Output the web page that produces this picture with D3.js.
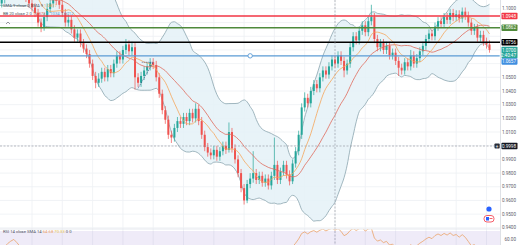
<!DOCTYPE html>
<html>
<head>
<meta charset="utf-8">
<script src="https://d3js.org/d3.v7.min.js"></script>
<style>
    body { margin: 0; background: #fff; }
    text { font-family: Roboto, sans-serif; }
    .tickLabel { font-size: 4.6px; fill: #5d606b; }
    .legend { font-size: 4.2px; fill: #50535e; }
    .boxLabel { font-size: 4.6px; fill: #fff; }
</style>
</head>
<body>
<div id="chart"></div>
<script>
// daily candles, oldest first (first ~30 sit above the visible price range)
const opens = [
    1.108,1.112,1.118,1.121,1.115,1.109,1.113,1.117,1.122,1.126,
    1.120,1.114,1.110,1.106,1.109,1.114,1.119,1.116,1.111,1.108,
    1.104,1.107,1.112,1.117,1.121,1.124,1.120,1.115,1.111,1.108,
    1.104,1.101,1.097,1.090,1.086,1.094,1.100,1.104,1.108,1.106,
    1.103,1.097,1.090,1.092,1.085,1.079,1.082,1.075,1.071,1.067,
    1.060,1.051,1.046,1.049,1.054,1.050,1.056,1.053,1.060,1.066,
    1.063,1.070,1.074,1.069,1.072,1.050,1.046,1.051,1.055,1.058,
    1.061,1.059,1.050,1.038,1.026,1.019,1.008,1.006,1.013,1.018,
    1.016,1.021,1.018,1.024,1.020,1.027,1.018,1.008,0.999,0.995,
    0.993,0.997,0.992,0.996,1.000,0.997,1.010,0.998,0.990,0.980,
    0.969,0.960,0.972,0.976,0.980,0.975,0.978,0.973,0.976,0.971,
    0.978,0.986,0.975,0.981,0.986,0.979,0.974,0.987,0.996,1.008,
    1.028,1.035,1.031,1.040,1.045,1.042,1.050,1.055,1.052,1.058,
    1.063,1.060,1.066,1.062,1.055,1.060,1.072,1.080,1.077,1.084,
    1.088,1.083,1.091,1.094,1.078,1.072,1.075,1.070,1.073,1.066,
    1.068,1.062,1.057,1.055,1.061,1.058,1.066,1.060,1.064,1.069,
    1.073,1.078,1.082,1.080,1.087,1.091,1.089,1.094,1.092,1.097,
    1.094,1.096,1.093,1.098,1.095,1.090,1.084,1.086,1.079,1.081,
    1.076,1.074
];
const highs = [
    1.115,1.121,1.125,1.124,1.118,1.116,1.120,1.125,1.130,1.129,
    1.123,1.117,1.113,1.112,1.117,1.122,1.122,1.119,1.114,1.111,
    1.110,1.115,1.120,1.124,1.128,1.127,1.123,1.118,1.114,1.111,
    1.107,1.104,1.100,1.093,1.097,1.104,1.108,1.112,1.111,1.109,
    1.110,1.100,1.096,1.095,1.088,1.085,1.085,1.078,1.074,1.070,
    1.063,1.054,1.053,1.057,1.057,1.059,1.059,1.063,1.069,1.069,
    1.073,1.078,1.077,1.076,1.075,1.053,1.054,1.058,1.061,1.064,
    1.064,1.062,1.053,1.041,1.029,1.022,1.011,1.016,1.021,1.021,
    1.024,1.024,1.027,1.027,1.031,1.030,1.021,1.011,1.002,0.998,
    1.000,1.000,0.999,1.003,1.003,1.017,1.013,1.001,0.993,0.983,
    0.972,0.975,0.980,0.996,0.983,0.981,0.981,0.979,0.979,0.981,
    1.006,0.989,0.984,0.989,0.989,0.982,0.990,0.999,1.011,1.031,
    1.039,1.038,1.043,1.048,1.048,1.053,1.058,1.058,1.061,1.066,
    1.066,1.069,1.069,1.065,1.063,1.075,1.083,1.083,1.087,1.091,
    1.091,1.094,1.103,1.097,1.081,1.078,1.078,1.076,1.076,1.071,
    1.071,1.065,1.060,1.064,1.064,1.070,1.069,1.067,1.072,1.076,
    1.081,1.085,1.085,1.090,1.094,1.094,1.097,1.097,1.100,1.100,
    1.099,1.099,1.101,1.101,1.098,1.093,1.089,1.089,1.084,1.084,
    1.079,1.077
];
const lows = [
    1.105,1.109,1.115,1.112,1.106,1.105,1.110,1.114,1.119,1.117,
    1.111,1.107,1.103,1.103,1.106,1.111,1.113,1.108,1.105,1.101,
    1.101,1.104,1.109,1.114,1.118,1.117,1.112,1.108,1.105,1.101,
    1.098,1.094,1.087,1.083,1.084,1.091,1.097,1.101,1.103,1.100,
    1.094,1.087,1.087,1.082,1.076,1.076,1.072,1.068,1.064,1.057,
    1.048,1.042,1.043,1.046,1.047,1.047,1.050,1.050,1.057,1.060,
    1.060,1.067,1.066,1.066,1.041,1.043,1.043,1.048,1.052,1.055,
    1.056,1.047,1.035,1.023,1.016,1.005,1.002,1.003,1.010,1.013,
    1.013,1.015,1.015,1.017,1.017,1.015,1.005,0.996,0.992,0.990,
    0.990,0.989,0.989,0.993,0.994,0.995,0.995,0.987,0.977,0.966,
    0.957,0.958,0.969,0.973,0.972,0.972,0.970,0.970,0.968,0.968,
    0.975,0.972,0.972,0.978,0.976,0.971,0.972,0.984,0.993,1.005,
    1.025,1.028,1.028,1.037,1.039,1.039,1.047,1.049,1.049,1.055,
    1.057,1.057,1.059,1.050,1.052,1.057,1.069,1.074,1.074,1.081,
    1.080,1.080,1.088,1.075,1.069,1.069,1.067,1.067,1.063,1.063,
    1.059,1.051,1.052,1.052,1.055,1.055,1.057,1.057,1.061,1.066,
    1.070,1.075,1.077,1.077,1.084,1.086,1.086,1.089,1.089,1.091,
    1.091,1.090,1.090,1.092,1.087,1.081,1.081,1.076,1.076,1.073,
    1.071,1.068
];
const closes = [
    1.112,1.118,1.121,1.115,1.109,1.113,1.117,1.122,1.126,1.120,
    1.114,1.110,1.106,1.109,1.114,1.119,1.116,1.111,1.108,1.104,
    1.107,1.112,1.117,1.121,1.124,1.120,1.115,1.111,1.108,1.104,
    1.101,1.097,1.090,1.086,1.094,1.100,1.104,1.108,1.106,1.103,
    1.097,1.090,1.092,1.085,1.079,1.082,1.075,1.071,1.067,1.060,
    1.051,1.046,1.049,1.054,1.050,1.056,1.053,1.060,1.066,1.063,
    1.070,1.074,1.069,1.072,1.050,1.046,1.051,1.055,1.058,1.061,
    1.059,1.050,1.038,1.026,1.019,1.008,1.006,1.013,1.018,1.016,
    1.021,1.018,1.024,1.020,1.027,1.018,1.008,0.999,0.995,0.993,
    0.997,0.992,0.996,1.000,0.997,1.010,0.998,0.990,0.980,0.969,
    0.960,0.972,0.976,0.980,0.975,0.978,0.973,0.976,0.971,0.978,
    0.986,0.975,0.981,0.986,0.979,0.974,0.987,0.996,1.008,1.028,
    1.035,1.031,1.040,1.045,1.042,1.050,1.055,1.052,1.058,1.063,
    1.060,1.066,1.062,1.055,1.060,1.072,1.080,1.077,1.084,1.088,
    1.083,1.091,1.094,1.078,1.072,1.075,1.070,1.073,1.066,1.068,
    1.062,1.057,1.055,1.061,1.058,1.066,1.060,1.064,1.069,1.073,
    1.078,1.082,1.080,1.087,1.091,1.089,1.094,1.092,1.097,1.094,
    1.096,1.093,1.098,1.095,1.090,1.084,1.086,1.079,1.081,1.076,
    1.074,1.070
];

const priceTicks = [1.10, 1.09, 1.08, 1.07, 1.06, 1.05, 1.04, 1.03, 1.02, 1.01, 1.00,
                    0.99, 0.98, 0.97, 0.96, 0.95, 0.94];
const gridIndex = [30, 40, 50, 60, 70, 80, 90, 100, 110, 120, 130, 140, 150, 160, 170, 180];
const levelPrices = [1.0948, 1.0862, 1.0756, 1.0657];
const crossIndex = 130, crossPrice = 0.9998;
const anchorIndex = 102;                     // the small circle sitting on the blue level
const triangle = [[65, 1.042], [70, 1.061], [66, 1.061]];
const rsiTicks = [60];
const rsiLegend = ["64.68", "70.33", "0", "0"];
const countdown = "12:40:47";

const W = 520, H = 245, plotR = 500, paneB = 229;
const levelColors = ["#f23645", "#4f8a3b", "#000000", "#5b9bd5"];
const upC = "#26a69a", downC = "#ef5350";

const svg = d3.select("#chart").append("svg")
    .attr("width", W).attr("height", H).style("display", "block");
svg.append("rect").attr("width", W).attr("height", H).attr("fill", "#fff");

const x = d3.scaleLinear().domain([30, 130]).range([32, 335]);
const y = d3.scaleLinear().domain([crossPrice, 1.0948]).range([146, 16]);
const rsiY = d3.scaleLinear().domain([60, 70]).range([239, 231]);

const defs = svg.append("defs");
defs.append("clipPath").attr("id", "pc").append("rect").attr("width", plotR).attr("height", paneB);
defs.append("clipPath").attr("id", "rc").append("rect")
    .attr("y", paneB + 0.5).attr("width", plotR).attr("height", H - paneB);

// indicators
const idx = d3.range(closes.length);
function sma(n) {
    return idx.map(i => i < n - 1 ? null : d3.mean(closes.slice(i - n + 1, i + 1)));
}
const sma9 = sma(9);
const basis = sma(20);
const dev = idx.map(i => {
    if (i < 19) return null;
    const s = closes.slice(i - 19, i + 1);
    return Math.sqrt(d3.mean(s, v => (v - basis[i]) ** 2));
});
const upper = idx.map(i => basis[i] == null ? null : basis[i] + 2 * dev[i]);
const lower = idx.map(i => basis[i] == null ? null : basis[i] - 2 * dev[i]);

const rsi = [null];
let ag = 0, al = 0;
for (let i = 1; i < closes.length; i++) {
    const ch = closes[i] - closes[i - 1];
    const g = Math.max(ch, 0), l = Math.max(-ch, 0);
    if (i <= 14) {
        ag += g / 14; al += l / 14;
        rsi[i] = i == 14 ? 100 - 100 / (1 + ag / al) : null;
    } else {
        ag = (ag * 13 + g) / 14; al = (al * 13 + l) / 14;
        rsi[i] = 100 - 100 / (1 + ag / al);
    }
}

// grid
const grid = svg.append("g");
grid.selectAll("line.h").data(priceTicks).enter().append("line")
    .attr("x1", 0).attr("x2", plotR)
    .attr("y1", d => y(d)).attr("y2", d => y(d))
    .attr("stroke", "#eef0f4").attr("stroke-width", 0.8);
grid.selectAll("line.v").data(gridIndex).enter().append("line")
    .attr("x1", d => x(d)).attr("x2", d => x(d))
    .attr("y1", 0).attr("y2", H)
    .attr("stroke", "#eef0f4").attr("stroke-width", 0.8);

// price pane
const price = svg.append("g").attr("clip-path", "url(#pc)");

price.append("path")
    .datum(idx.filter(i => upper[i] != null))
    .attr("d", d3.area().x(i => x(i)).y0(i => y(lower[i])).y1(i => y(upper[i])).curve(d3.curveMonotoneX))
    .attr("fill", "#e4f1f7").attr("fill-opacity", 0.85);

const lineOf = arr => d3.line().defined(i => arr[i] != null)
    .x(i => x(i)).y(i => y(arr[i])).curve(d3.curveMonotoneX);

price.append("path").datum(idx).attr("d", lineOf(upper))
    .attr("fill", "none").attr("stroke", "#8aa5ae").attr("stroke-width", 0.8);
price.append("path").datum(idx).attr("d", lineOf(lower))
    .attr("fill", "none").attr("stroke", "#8aa5ae").attr("stroke-width", 0.8);

// candles
const candle = price.selectAll("g.candle").data(idx).enter().append("g");
candle.append("line")
    .attr("x1", i => x(i)).attr("x2", i => x(i))
    .attr("y1", i => y(highs[i])).attr("y2", i => y(lows[i]))
    .attr("stroke", i => closes[i] >= opens[i] ? upC : downC).attr("stroke-width", 0.7);
candle.append("rect")
    .attr("x", i => x(i) - 1).attr("width", 2)
    .attr("y", i => y(Math.max(opens[i], closes[i])))
    .attr("height", i => Math.max(0.7, Math.abs(y(opens[i]) - y(closes[i]))))
    .attr("fill", i => closes[i] >= opens[i] ? upC : downC);

price.append("path").datum(idx).attr("d", lineOf(basis))
    .attr("fill", "none").attr("stroke", "#e06a5a").attr("stroke-width", 0.8);
price.append("path").datum(idx).attr("d", lineOf(sma9))
    .attr("fill", "none").attr("stroke", "#f5a65b").attr("stroke-width", 0.8);

// dotted triangle drawing
price.append("path").datum(triangle)
    .attr("d", d3.line().x(d => x(d[0])).y(d => y(d[1])))
    .attr("fill", "none").attr("stroke", "#2b3c78").attr("stroke-width", 0.7)
    .attr("stroke-dasharray", "1,1");

// horizontal levels
price.selectAll("line.level").data(levelPrices).enter().append("line")
    .attr("x1", 0).attr("x2", plotR)
    .attr("y1", d => y(d)).attr("y2", d => y(d))
    .attr("stroke", (d, i) => levelColors[i])
    .attr("stroke-width", (d, i) => i == 3 ? 1.3 : 1.7);

price.append("circle")
    .attr("cx", x(anchorIndex)).attr("cy", y(levelPrices[3])).attr("r", 2.2)
    .attr("fill", "#fff").attr("stroke", levelColors[3]).attr("stroke-width", 0.9);

// crosshair
svg.append("line").attr("x1", 0).attr("x2", plotR)
    .attr("y1", y(crossPrice)).attr("y2", y(crossPrice))
    .attr("stroke", "#8f929b").attr("stroke-width", 0.6).attr("stroke-dasharray", "2,1.5");
svg.append("line").attr("x1", x(crossIndex)).attr("x2", x(crossIndex))
    .attr("y1", 0).attr("y2", H)
    .attr("stroke", "#8f929b").attr("stroke-width", 0.6).attr("stroke-dasharray", "2,1.5");

// RSI pane
svg.append("line").attr("x1", 0).attr("x2", W).attr("y1", paneB).attr("y2", paneB)
    .attr("stroke", "#e0e3eb").attr("stroke-width", 0.8);
svg.append("rect").attr("x", 0).attr("width", plotR)
    .attr("y", rsiY(70)).attr("height", H - rsiY(70))
    .attr("fill", "#7e57c2").attr("fill-opacity", 0.12);
const rsiG = svg.append("g").attr("clip-path", "url(#rc)");
rsiG.append("path").datum(idx)
    .attr("d", d3.line().defined(i => rsi[i] != null).x(i => x(i)).y(i => rsiY(rsi[i])))
    .attr("fill", "none").attr("stroke", "#eba36a").attr("stroke-width", 0.8);

// price axis
svg.append("rect").attr("x", plotR).attr("width", W - plotR).attr("height", H).attr("fill", "#fff");
svg.append("line").attr("x1", plotR + 0.5).attr("x2", plotR + 0.5).attr("y1", 0).attr("y2", H)
    .attr("stroke", "#d6d9e0").attr("stroke-width", 0.8);

const lastPrice = closes[closes.length - 1];
const boxes = [
    { v: levelPrices[0], c: levelColors[0] },
    { v: levelPrices[1], c: levelColors[1] },
    { v: levelPrices[2], c: levelColors[2] },
    { v: lastPrice, c: upC, sub: countdown },
    { v: levelPrices[3], c: "#3f8ee0" }
];
let prevBottom = -Infinity;
boxes.forEach(b => {
    const h = b.sub ? 11.5 : 6.4;
    let top = y(b.v) - 3.2;
    if (top < prevBottom) top = prevBottom;
    b.top = top;
    prevBottom = top + h;
    b.h = h;
});

const hidden = priceTicks.filter(t => boxes.some(b => y(t) > b.top - 3 && y(t) < b.top + b.h + 3)
    || Math.abs(y(t) - y(crossPrice)) < 6);
svg.selectAll("text.tick").data(priceTicks.filter(t => !hidden.includes(t))).enter().append("text")
    .attr("class", "tickLabel")
    .attr("x", 516).attr("y", d => y(d)).attr("dy", "0.35em")
    .attr("text-anchor", "end")
    .text(d => d3.format(".4f")(d));

boxes.forEach(b => {
    svg.append("rect").attr("x", 501.5).attr("y", b.top).attr("width", 16).attr("height", b.h)
        .attr("rx", 0.8).attr("fill", b.c);
    svg.append("text").attr("class", "boxLabel")
        .attr("x", 516).attr("y", b.top + 3.2).attr("dy", "0.35em").attr("text-anchor", "end")
        .text(d3.format(".4f")(b.v));
    if (b.sub) svg.append("text").attr("class", "boxLabel")
        .attr("x", 516).attr("y", b.top + 8.4).attr("dy", "0.35em").attr("text-anchor", "end")
        .text(b.sub);
});

// crosshair price label
svg.append("rect").attr("x", 501.5).attr("y", y(crossPrice) - 3.2).attr("width", 16).attr("height", 6.4)
    .attr("rx", 0.8).attr("fill", "#131722");
svg.append("text").attr("class", "boxLabel").attr("x", 516).attr("y", y(crossPrice))
    .attr("dy", "0.35em").attr("text-anchor", "end").text(d3.format(".4f")(crossPrice));
svg.append("rect").attr("x", 494.5).attr("y", y(crossPrice) - 2.6).attr("width", 5.2).attr("height", 5.2)
    .attr("rx", 0.8).attr("fill", "#2a2e39");
svg.append("text").attr("x", 497.1).attr("y", y(crossPrice)).attr("dy", "0.35em")
    .attr("text-anchor", "middle").attr("font-size", "4.5px").attr("fill", "#fff").text("+");

// rsi axis
svg.selectAll("text.rsiTick").data(rsiTicks).enter().append("text")
    .attr("class", "tickLabel").attr("x", 516).attr("y", d => rsiY(d)).attr("dy", "0.35em")
    .attr("text-anchor", "end").text(d => d3.format(".2f")(d));

// legends
const f4 = d3.format(".4f");
const last = closes.length - 1;
const lg1 = svg.append("text").attr("class", "legend").attr("x", 3).attr("y", 6.5);
lg1.append("tspan").text("SMA 9 close 0 SMA 9 ");
lg1.append("tspan").attr("fill", "#f5a65b").text(" " + f4(sma9[last]));
const lg2 = svg.append("text").attr("class", "legend").attr("x", 3).attr("y", 15);
lg2.append("tspan").text("BB 20 close 2 0 ");
lg2.append("tspan").attr("fill", "#e06a5a").text(" " + f4(basis[last]));
lg2.append("tspan").attr("fill", "#5b9bd5").text(" " + f4(upper[last]));
lg2.append("tspan").attr("fill", "#5b9bd5").text(" " + f4(lower[last]));
svg.append("path").attr("d", "M6,24 L8,22 L10,24").attr("fill", "none")
    .attr("stroke", "#50535e").attr("stroke-width", 0.6);

const lg3 = svg.append("text").attr("class", "legend").attr("x", 3).attr("y", 233);
lg3.append("tspan").text("RSI 14 close SMA 14 ");
lg3.append("tspan").attr("fill", "#eba36a").text(" " + rsiLegend[0]);
lg3.append("tspan").attr("fill", "#e6c34a").text(" " + rsiLegend[1]);
lg3.append("tspan").text(" " + rsiLegend[2] + " " + rsiLegend[3]);

// small markers at the right edge
svg.append("circle").attr("cx", 489).attr("cy", 209).attr("r", 2.6).attr("fill", "#2962ff");
svg.append("rect").attr("x", 484).attr("y", 215.5).attr("width", 10).attr("height", 6.5).attr("rx", 3)
    .attr("fill", "#fff").attr("stroke", "#f23645").attr("stroke-width", 0.8);
svg.append("rect").attr("x", 486).attr("y", 217).attr("width", 3).attr("height", 3.5).attr("fill", "#2962ff");
svg.append("line").attr("x1", 489.5).attr("x2", 492.5).attr("y1", 218.5).attr("y2", 218.5)
    .attr("stroke", "#f23645").attr("stroke-width", 0.8);
</script>
</body>
</html>
